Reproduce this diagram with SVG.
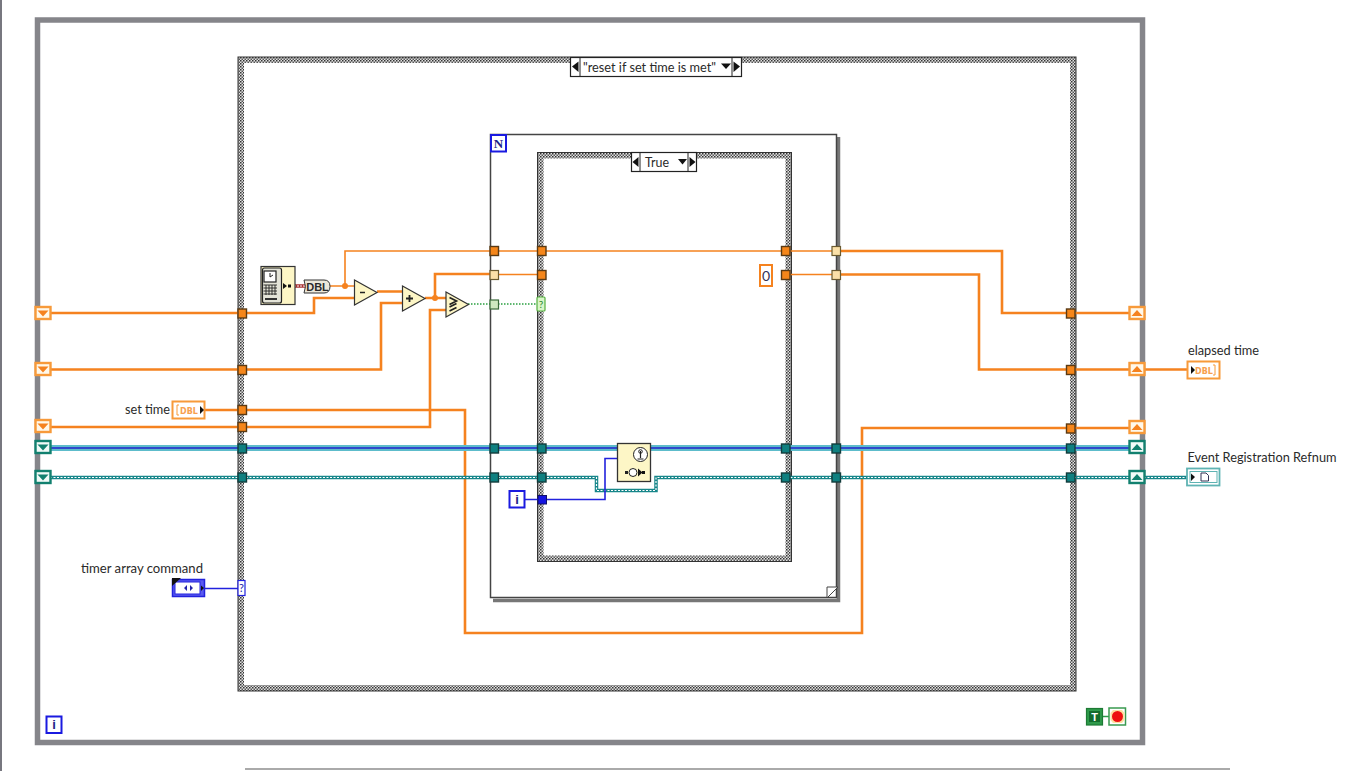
<svg xmlns="http://www.w3.org/2000/svg" width="1361" height="771" viewBox="0 0 1361 771">
<style>
text{font-family:Lato,"Open Sans","Liberation Sans",sans-serif;fill:#2a2a2a}
.lbl{font-size:14px}
.o{fill:none;stroke:#f5821f;stroke-width:2.6}
.ot{fill:none;stroke:#f5821f;stroke-width:1.6}
.tun{fill:#f5861a;stroke:#5a3a14;stroke-width:1.4}
.tunt{fill:#0f8080;stroke:#123c3c;stroke-width:1.4}
.tunl{fill:#fbe0a8;stroke:#6b5a30;stroke-width:1.2}
.srO{fill:#fff8ea;stroke:#f79a3a;stroke-width:2.4}
.srT{fill:#f2fbf8;stroke:#12806f;stroke-width:2.4}
.ao{fill:#f5821f}.at{fill:#12806f}
.tri{fill:#fdf6c6;stroke:#333;stroke-width:1.2}
.blue{fill:none;stroke:#2222dd;stroke-width:1.6}
.cst{fill:#fff;stroke:#1a1ae0;stroke-width:2}
.sel{fill:#fff;stroke:#222;stroke-width:1.2}
.ck{fill:none;stroke:url(#checker);stroke-width:6}
</style>
<defs>
<pattern id="checker" width="3" height="3" patternUnits="userSpaceOnUse">
<rect width="3" height="3" fill="#e2e2e2"/><rect width="1.5" height="1.5" fill="#333"/><rect x="1.5" y="1.5" width="1.5" height="1.5" fill="#555"/>
</pattern>
<symbol id="dn" viewBox="0 0 16 14" overflow="visible"><rect class="srO" x="0" y="0" width="15" height="12"/><path class="ao" d="M2 3.500H13L7.500 9.500Z"/></symbol>
<symbol id="up" viewBox="0 0 16 14" overflow="visible"><rect class="srO" x="0" y="0" width="15" height="12"/><path class="ao" d="M2 9H13L7.500 3Z"/></symbol>
<symbol id="dnT" viewBox="0 0 16 14" overflow="visible"><rect class="srT" x="0" y="0" width="15" height="12"/><path class="at" d="M2 3.500H13L7.500 9.500Z"/></symbol>
<symbol id="upT" viewBox="0 0 16 14" overflow="visible"><rect class="srT" x="0" y="0" width="15" height="12"/><path class="at" d="M2 9H13L7.500 3Z"/></symbol>
</defs>
<rect width="1361" height="771" fill="#fff"/>
<rect x="0" y="0" width="2" height="771" fill="#77777f"/>
<rect x="245" y="768" width="985" height="2" fill="#aaa"/>

<g id="while-loop"><rect x="37.500" y="20" width="1105" height="722.500" fill="none" stroke="#85858a" stroke-width="5.500"/></g>
<g id="case-outer"><rect x="241" y="60" width="832" height="628" class="ck"/><rect x="238" y="57" width="838" height="634" fill="none" stroke="#333" stroke-width="1"/></g>
<g id="for-loop"><path d="M838.500 137V600.500H493" fill="none" stroke="#777" stroke-width="3.500"/><rect x="490.500" y="134.500" width="346" height="463" fill="#fff" stroke="#444" stroke-width="1.500"/><path d="M827 598V587H838L827 598Z" fill="#fff" stroke="#444"/></g>
<g id="case-inner"><rect x="540.500" y="155.500" width="248" height="403" class="ck"/><rect x="537.500" y="152.500" width="254" height="409" fill="none" stroke="#333" stroke-width="1"/></g>

<g id="connectors">
<path class="o" d="M50 313H314V298H354"/>
<path class="o" d="M50 369.500H381V303H402"/>
<path class="o" d="M50 427H430V310H446"/>
<path class="o" d="M205 410H465V633H862V428H1130"/>
<path class="ot" d="M330 286H354M345 286V251H836"/>
<path class="o" d="M377 291.500H402M425 298H446M435 298V274H494"/>
<path class="ot" d="M494 274.500H542M786 274.500H836"/>
<path class="o" d="M836 251H1002V313H1130"/>
<path class="o" d="M836 274.500H979V369.500H1130"/>
<path class="ot" d="M1130 369.500H1188" style="stroke-width:2.400"/>
<circle class="ao" cx="345" cy="286" r="3"/><circle class="ao" cx="435" cy="298" r="3"/>
<path d="M468 304H542" fill="none" stroke="#2aa040" stroke-width="1.500" stroke-dasharray="1.500 1.500"/>
<path d="M291 286H305" fill="none" stroke="#a83030" stroke-width="3.500"/>
<path d="M291 286H305" fill="none" stroke="#fff" stroke-width="1" stroke-dasharray="2 1"/>
<path d="M50 448H617M651 448H1130" fill="none" stroke="#5dbccb" stroke-width="6"/>
<path d="M50 448H617M651 448H1130" fill="none" stroke="#2222cc" stroke-width="1.500"/>
<path d="M50 477.500H596.500V490.500H656V477.500H1188" fill="none" stroke="#17868a" stroke-width="3.500"/>
<path d="M50 477.500H596.500V490.500H656V477.500H1188" fill="none" stroke="#fff" stroke-width="1.200" stroke-dasharray="2 1.500"/>
<path class="blue" d="M525 499.500H605V458.500H617"/>
<path class="blue" d="M205 588.500H240"/>
<path d="M1103 716.500H1109" stroke="#2e9a4a" stroke-width="1.500"/>
</g>

<g id="shift-registers">
<use href="#dn" x="35.500" y="307" width="16" height="14"/><use href="#dn" x="35.500" y="363" width="16" height="14"/><use href="#dn" x="35.500" y="420" width="16" height="14"/>
<use href="#dnT" x="35.500" y="441" width="16" height="14"/><use href="#dnT" x="35.500" y="471" width="16" height="14"/>
<use href="#up" x="1129.500" y="307" width="16" height="14"/><use href="#up" x="1129.500" y="363" width="16" height="14"/><use href="#up" x="1129.500" y="421" width="16" height="14"/>
<use href="#upT" x="1129.500" y="441" width="16" height="14"/><use href="#upT" x="1129.500" y="471" width="16" height="14"/>
</g>
<g id="tunnels">
<rect class="tun" x="238" y="309" width="8.500" height="9"/><rect class="tun" x="238" y="365.500" width="8.500" height="9"/><rect class="tun" x="238" y="405.500" width="8.500" height="9"/><rect class="tun" x="238" y="422.500" width="8.500" height="9"/>
<rect class="tunt" x="238" y="444" width="8.500" height="9"/><rect class="tunt" x="238" y="473" width="8.500" height="9"/>
<rect class="tun" x="490" y="246.500" width="8.500" height="9"/><rect class="tunl" x="490" y="270.500" width="8.500" height="9"/><rect x="490" y="300" width="8.500" height="9" fill="#cfe8c0" stroke="#3a6a3a" stroke-width="1.200"/>
<rect class="tunt" x="490" y="444" width="8.500" height="9"/><rect class="tunt" x="490" y="473" width="8.500" height="9"/>
<rect class="tun" x="537.500" y="246.500" width="8.500" height="9"/><rect class="tun" x="537.500" y="270.500" width="8.500" height="9"/>
<rect class="tunt" x="537.500" y="444" width="8.500" height="9"/><rect class="tunt" x="537.500" y="473" width="8.500" height="9"/>
<rect x="538" y="495.500" width="8.500" height="8.500" fill="#1414e0" stroke="#10106a" stroke-width="1"/>
<rect x="537" y="297" width="8" height="14" rx="1" fill="#d8f5c8" stroke="#55b040" stroke-width="1.200"/><text x="541" y="308" text-anchor="middle" style="font-size:10px;fill:#2a8a2a">?</text>
<rect class="tun" x="781.500" y="246.500" width="8.500" height="9"/><rect class="tun" x="781.500" y="270.500" width="8.500" height="9"/>
<rect class="tunt" x="781.500" y="444" width="8.500" height="9"/><rect class="tunt" x="781.500" y="473" width="8.500" height="9"/>
<rect class="tunl" x="832" y="246.500" width="8.500" height="9"/><rect class="tunl" x="832" y="270.500" width="8.500" height="9"/>
<rect class="tunt" x="832" y="444" width="8.500" height="9"/><rect class="tunt" x="832" y="473" width="8.500" height="9"/>
<rect class="tun" x="1066.500" y="309" width="8.500" height="9"/><rect class="tun" x="1066.500" y="365.500" width="8.500" height="9"/><rect class="tun" x="1066.500" y="424" width="8.500" height="9"/>
<rect class="tunt" x="1066.500" y="444" width="8.500" height="9"/><rect class="tunt" x="1066.500" y="473" width="8.500" height="9"/>
<rect x="238" y="580.500" width="7" height="15" fill="#fff" stroke="#2222dd" stroke-width="1.200"/><text x="241.500" y="592" text-anchor="middle" style="font-size:11px;fill:#2222aa">?</text>
</g>

<g id="case-selector-outer"><rect class="sel" x="570.500" y="57.500" width="171" height="19"/><path d="M580 58V76M732 58V76" stroke="#222"/><path d="M578.500 61.500V72L572 66.500Z" fill="#111"/><path d="M733.500 61.500V72L740 66.500Z" fill="#111"/><path d="M721 63.500H731L726 69Z" fill="#111"/><text x="583" y="72" textLength="133" lengthAdjust="spacingAndGlyphs" style="font-size:14px">"reset if set time is met"</text></g>
<g id="case-selector-inner"><rect class="sel" x="631.500" y="152.500" width="65" height="19"/><path d="M640 153V171M688 153V171" stroke="#222"/><path d="M638.500 157V167L632.500 162Z" fill="#111"/><path d="M689.500 157V167L695.500 162Z" fill="#111"/><path d="M678 159H687L682.500 164.500Z" fill="#111"/><text x="645" y="167" textLength="24" lengthAdjust="spacingAndGlyphs" style="font-size:14px">True</text></g>

<g id="for-n"><rect class="cst" x="491" y="135" width="15" height="16.500"/><text x="498.500" y="148" text-anchor="middle" style="font-size:13px;font-weight:700;fill:#22228a;font-family:'Liberation Serif',serif">N</text></g>
<g id="tick-count"><rect x="261" y="266.500" width="34" height="38" fill="#fdf6c6" stroke="#333" stroke-width="1.200"/><rect x="262.500" y="268" width="19" height="35" rx="2" fill="#e4e4d8" stroke="#222" stroke-width="1.200"/><rect x="264" y="271" width="12" height="11" fill="#fff" stroke="#222" stroke-width="1.200"/><path d="M270 273V277L273 275" fill="none" stroke="#222"/><path d="M263.500 285H277M263.500 288H277M263.500 291H277M263.500 294H277M266 285V295M269 285V295M272 285V295M275 285V295" stroke="#222" stroke-width=".9"/><rect x="265" y="298" width="12" height="2" fill="#333"/><path d="M283 283V289L287 286Z" fill="#111"/><rect x="288" y="284.500" width="3" height="3" fill="#111"/></g>
<g id="to-double"><path d="M304 280H324Q330 280 330 286.500Q330 293 324 293H304Q307 286.500 304 280Z" fill="#ece8da" stroke="#333"/><text x="317.500" y="291" text-anchor="middle" style="font-size:11px;font-weight:700;font-family:'Liberation Sans',sans-serif">DBL</text></g>
<g id="subtract"><path class="tri" d="M354.500 280V305L377 292.500Z"/><path d="M360 292.500H365" stroke="#222" stroke-width="1.500"/></g>
<g id="add"><path class="tri" d="M402.500 286V311L425 298.500Z"/><path d="M406 298.500H413M409.500 295V302" stroke="#222" stroke-width="1.800"/></g>
<g id="greater-equal"><path class="tri" d="M446 292V317L468.500 304.500Z"/><path d="M449.500 297.500L456.500 301L449.500 304.500M449.500 307L456.500 303.500M449.500 311L456.500 307.500" fill="none" stroke="#222" stroke-width="1.700"/></g>
<g id="register-events"><rect x="617.500" y="443.500" width="33" height="38" fill="#fdf6c6" stroke="#333" stroke-width="1.300"/><circle cx="640.500" cy="454.500" r="7" fill="#fff" stroke="#222"/><path d="M640.500 451V458M637.500 459H643.500" stroke="#222" stroke-width="1.200"/><circle cx="640.500" cy="451.500" r="1.800" fill="none" stroke="#222"/><rect x="625" y="471" width="3" height="3" fill="#222"/><circle cx="633" cy="472.500" r="4" fill="#fff" stroke="#222"/><path d="M638 468.500V476.500L642.500 472.500Z" fill="#111"/><rect x="642" y="471" width="3" height="3" fill="#111"/></g>
<g id="const-zero"><rect x="760" y="265" width="12" height="21" fill="#fff" stroke="#f5821f" stroke-width="2"/><text x="766" y="280.500" text-anchor="middle" style="font-size:14px;fill:#333355">0</text></g>
<g id="iter-inner"><rect class="cst" x="509.500" y="491" width="15" height="16.500"/><text x="517" y="504" text-anchor="middle" style="font-size:13px;font-weight:700;fill:#22228a;font-family:'Liberation Sans',sans-serif">i</text></g>
<g id="iter-outer"><rect class="cst" x="46.500" y="716.500" width="15" height="16.500"/><text x="54" y="729" text-anchor="middle" style="font-size:13px;font-weight:700;fill:#22228a;font-family:'Liberation Sans',sans-serif">i</text></g>
<g id="set-time"><text x="125" y="414" textLength="45" lengthAdjust="spacingAndGlyphs" class="lbl">set time</text><rect x="172.500" y="401.500" width="32" height="17" fill="#fff" stroke="#f79a3a" stroke-width="2"/><path d="M179 405H177V415H179" fill="none" stroke="#f79a3a"/><text x="189" y="413.500" text-anchor="middle" style="font-size:8px;font-weight:700;fill:#f7a050;font-family:'DejaVu Sans',sans-serif">DBL</text><path d="M200 406V414L204 410Z" fill="#111"/></g>
<g id="timer-array-command"><text x="81" y="573" textLength="122" lengthAdjust="spacingAndGlyphs" class="lbl">timer array command</text><rect x="172.500" y="579.500" width="32" height="17" fill="#5a5af0" stroke="#2222dd" stroke-width="1.500"/><rect x="175" y="582" width="25" height="12" fill="#fff" stroke="#2222dd"/><path d="M172 578H181L172 586Z" fill="#111"/><path d="M187 585V591L184 588ZM190 585V591L193 588Z" fill="#2222aa"/><path d="M201 585.500V591L204 588Z" fill="#111"/></g>
<g id="elapsed-time"><text x="1188" y="355" textLength="71" lengthAdjust="spacingAndGlyphs" class="lbl">elapsed time</text><rect x="1187.500" y="361.500" width="32" height="17" fill="#fff" stroke="#f79a3a" stroke-width="2"/><path d="M1191 366V374L1195 370Z" fill="#111"/><path d="M1213 365H1215V375H1213" fill="none" stroke="#f79a3a"/><text x="1204" y="373.500" text-anchor="middle" style="font-size:8px;font-weight:700;fill:#f7a050;font-family:'DejaVu Sans',sans-serif">DBL</text></g>
<g id="event-refnum"><text x="1187.500" y="462" textLength="149" lengthAdjust="spacingAndGlyphs" class="lbl">Event Registration Refnum</text><rect x="1187" y="468.500" width="32.500" height="17" fill="#fff" stroke="#5fb3b3" stroke-width="1.800"/><rect x="1190" y="471.500" width="27" height="11" fill="#fff" stroke="#5fb3b3"/><path d="M1191 473.500V481L1195 477Z" fill="#111"/><path d="M1201 473H1206L1208.500 475.500V481H1201Z" fill="#fff" stroke="#333355"/></g>
<g id="terminal-t"><rect x="1086.500" y="708.500" width="16" height="16.500" fill="#2e9a4a" stroke="#1d7a34" stroke-width="1.200"/><rect x="1089" y="711" width="11" height="11" fill="#136b2c"/><text x="1094.500" y="721" text-anchor="middle" style="font-size:11px;font-weight:700;fill:#fff;font-family:'Liberation Sans',sans-serif">T</text></g>
<g id="stop"><rect x="1109" y="708" width="16.500" height="17" fill="#fff" stroke="#3a9a50" stroke-width="1.500"/><path d="M1113 710H1122L1124.500 713V720L1122 723H1113L1110.500 720V713Z" fill="#fde0a0"/><circle cx="1117.500" cy="716.500" r="5.500" fill="#ee1111"/></g>
</svg>
